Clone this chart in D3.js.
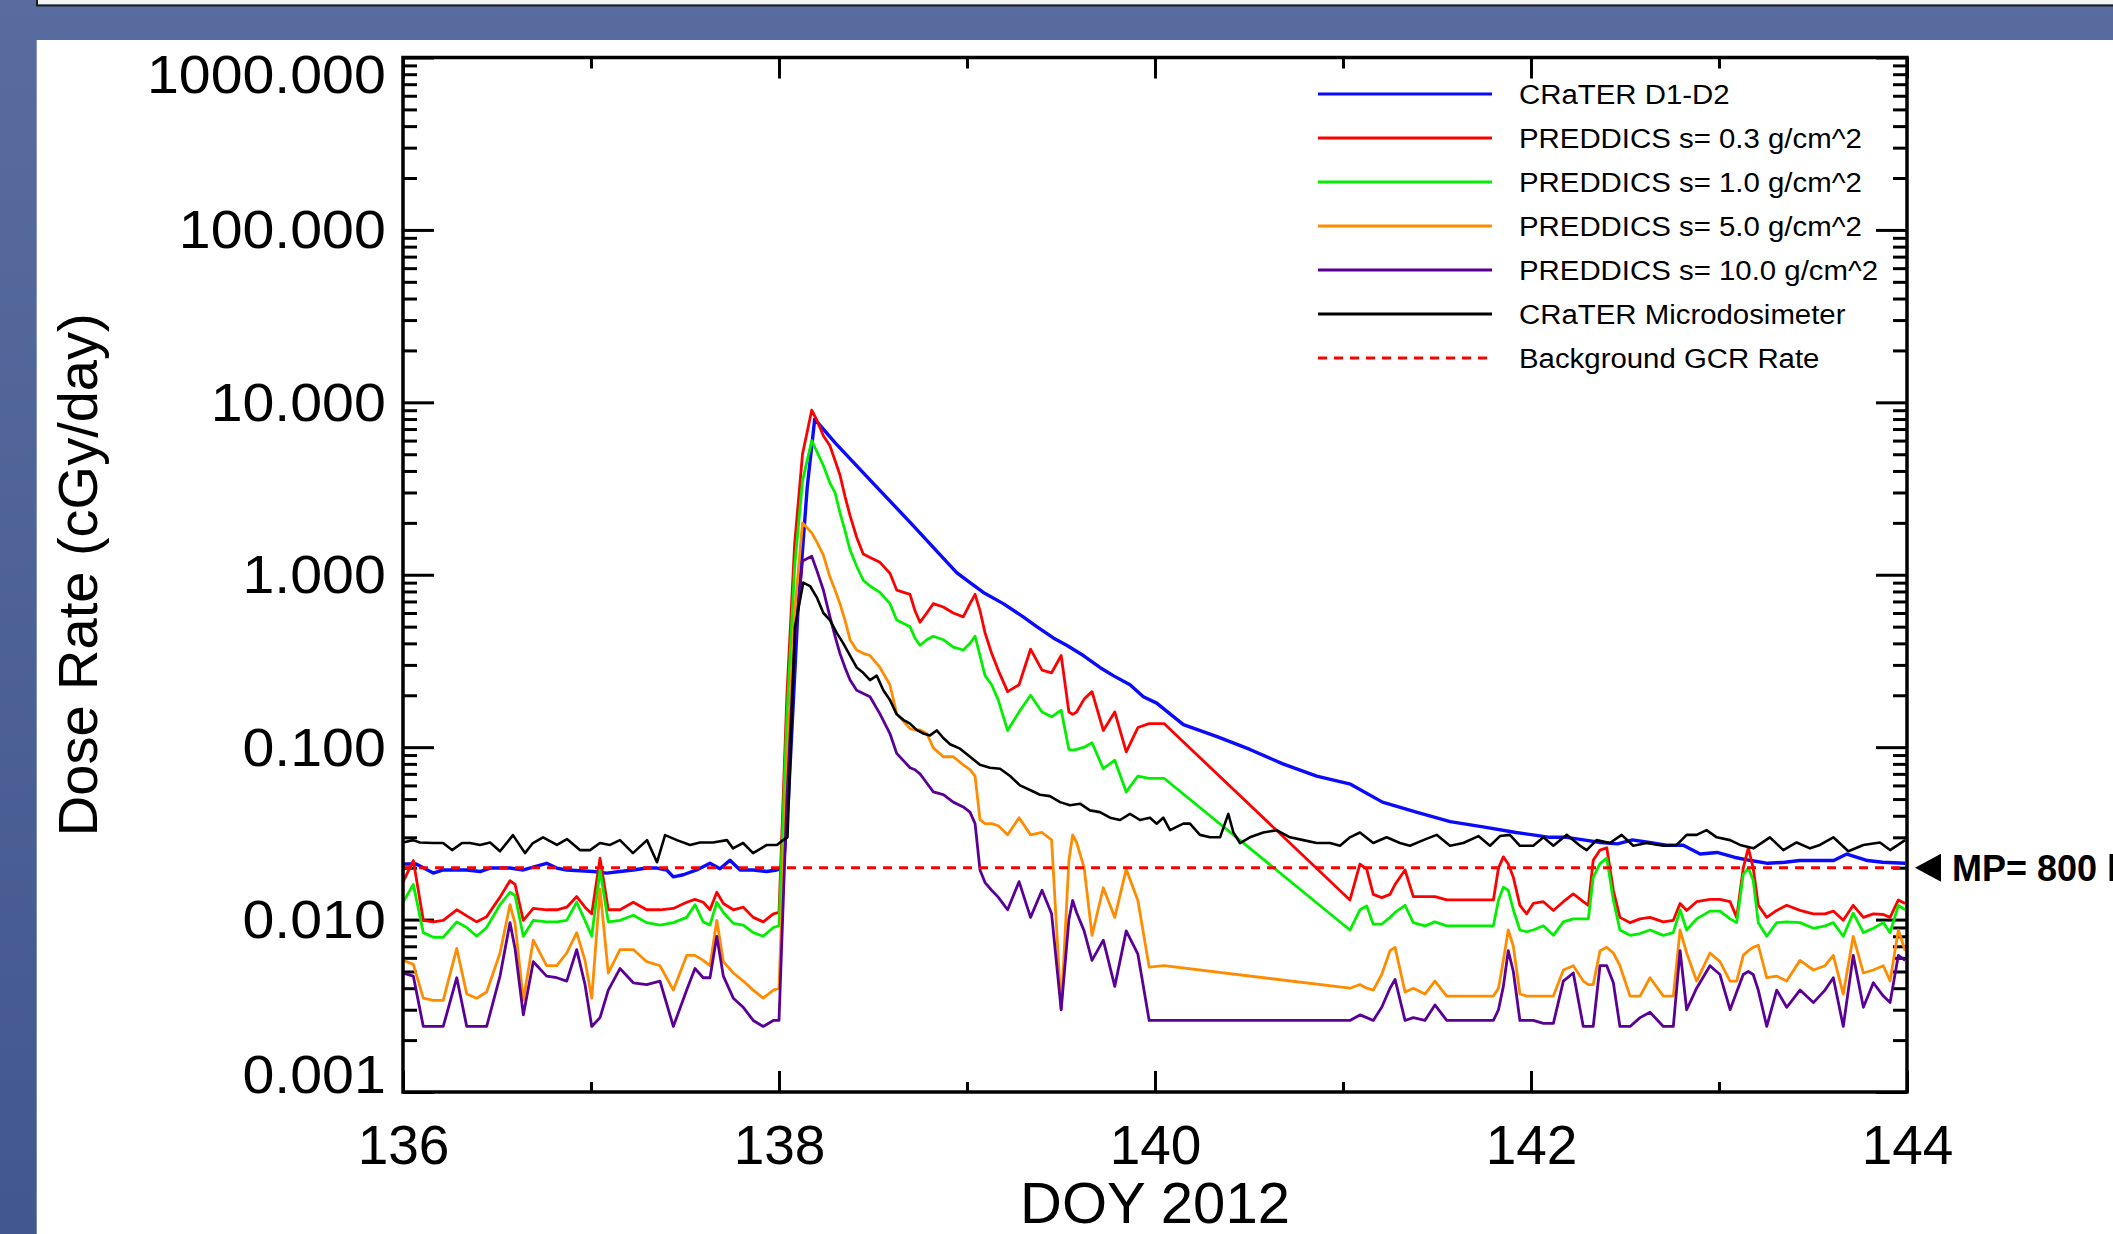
<!DOCTYPE html>
<html>
<head>
<meta charset="utf-8">
<script src="https://cdn.jsdelivr.net/npm/d3@7"></script>
<style>
  html, body { margin: 0; padding: 0; background: #4f639a; overflow: hidden; }
  svg { display: block; }
  text { font-family: "Liberation Sans", Arial, Helvetica, sans-serif; }
</style>
</head>
<body>
<svg id="chart" width="2113" height="1234"></svg>
<script>
// ---------------- data ----------------
const doyMajor = [136, 138, 140, 142, 144];
const doyMinor = [137, 139, 141, 143];
const doseDecades = [0.001, 0.01, 0.1, 1, 10, 100, 1000];

const seriesLabels = [
  "CRaTER D1-D2",
  "PREDDICS s= 0.3 g/cm^2",
  "PREDDICS s= 1.0 g/cm^2",
  "PREDDICS s= 5.0 g/cm^2",
  "PREDDICS s= 10.0 g/cm^2",
  "CRaTER Microdosimeter",
  "Background GCR Rate"
];
const xTitle = "DOY 2012";
const yTitle = "Dose Rate (cGy/day)";
const orbitNote = "MP= 800 km";
const gcrRate = 0.02;

// CRaTER D1-D2 dose rate
const d1d2Doy = [
  136.000, 136.070, 136.161, 136.214, 136.339, 136.410, 136.463, 136.569, 136.640, 136.764, 136.818, 136.871, 137.012, 137.083, 137.154, 137.225, 137.296, 137.350, 137.403, 137.438, 137.491, 137.562, 137.633, 137.686, 137.739, 137.793, 137.863, 137.934, 137.988, 138.023,
  138.050, 138.100, 138.150, 138.190, 138.300, 138.500, 138.700, 138.945,
  139.016, 139.087, 139.193, 139.299, 139.371, 139.459, 139.530, 139.619, 139.707, 139.778, 139.867, 139.938, 140.009,
  140.151, 140.330, 140.505, 140.680, 140.860, 141.040, 141.210, 141.390, 141.570, 141.745, 141.920,
  142.010, 142.100, 142.190, 142.280, 142.370, 142.460, 142.540, 142.630, 142.720, 142.810, 142.900, 142.990, 143.080, 143.170, 143.260, 143.350, 143.430, 143.520, 143.610, 143.680, 143.790, 143.870, 143.990
];
const d1d2Dose = [
  0.0210, 0.0210, 0.0186, 0.0194, 0.0194, 0.0190, 0.0199, 0.0199, 0.0194, 0.0212, 0.0199, 0.0194, 0.0190, 0.0186, 0.0190, 0.0194, 0.0199, 0.0199, 0.0194, 0.0177, 0.0182, 0.0194, 0.0212, 0.0197, 0.0221, 0.0194, 0.0194, 0.0190, 0.0194, 0.0199,
  0.05, 0.6, 3.2, 8.0, 5.8, 3.4, 2.0, 1.03,
  0.90, 0.79, 0.68, 0.57, 0.50, 0.43, 0.39, 0.34, 0.29, 0.26, 0.23, 0.196, 0.18,
  0.135, 0.115, 0.097, 0.080, 0.068, 0.061, 0.048, 0.042, 0.037, 0.0345, 0.032,
  0.031, 0.030, 0.030, 0.029, 0.028, 0.0275, 0.029, 0.028, 0.027, 0.027, 0.024, 0.0245, 0.023, 0.022, 0.0212, 0.0215, 0.022, 0.022, 0.022, 0.024, 0.022, 0.0215, 0.0212
];

// PREDDICS model output, one shared time base for the four shielding depths
const preddicsDoy = [
  136.000, 136.055, 136.108, 136.161, 136.214, 136.286, 136.339, 136.392, 136.445, 136.516, 136.569, 136.596, 136.640, 136.693, 136.764, 136.818, 136.871, 136.924, 136.968, 137.004, 137.048, 137.092, 137.154, 137.225, 137.296, 137.367, 137.438, 137.509, 137.553, 137.597, 137.633, 137.669, 137.704, 137.757, 137.810, 137.863, 137.916, 137.970, 138.000,
  138.042, 138.083, 138.125, 138.174, 138.201, 138.236, 138.271, 138.298, 138.324, 138.351, 138.378, 138.413, 138.448, 138.484, 138.537, 138.590, 138.626, 138.697, 138.723, 138.750, 138.786, 138.821, 138.874, 138.927, 138.980, 139.016, 139.043, 139.069, 139.096, 139.131, 139.166, 139.216, 139.277, 139.338, 139.399, 139.450, 139.501, 139.542, 139.562, 139.583, 139.623, 139.665, 139.725, 139.786, 139.847, 139.909, 139.969, 140.048,
  141.037, 141.090, 141.126, 141.161, 141.206, 141.250, 141.277, 141.330, 141.374, 141.436, 141.489, 141.552, 141.800, 141.827, 141.853, 141.879, 141.906, 141.941, 141.977,
  142.012, 142.066, 142.119, 142.172, 142.225, 142.278, 142.305, 142.331, 142.367, 142.403, 142.438, 142.473, 142.527, 142.580, 142.633, 142.704, 142.757, 142.793, 142.828, 142.881, 142.952, 143.005, 143.059, 143.094, 143.129, 143.156, 143.182, 143.209, 143.254, 143.307, 143.360, 143.431, 143.502, 143.564, 143.608, 143.661, 143.714, 143.768, 143.821, 143.874, 143.910, 143.954, 143.990
];
const preddics03 = [
  0.0165, 0.022, 0.0099, 0.0097, 0.0099, 0.0114, 0.0105, 0.0097, 0.0104, 0.0135, 0.0168, 0.016, 0.0099, 0.0116, 0.0114, 0.0114, 0.0118, 0.0136, 0.0118, 0.0108, 0.0227, 0.0114, 0.0114, 0.0126, 0.0114, 0.0114, 0.0116, 0.0126, 0.0131, 0.0126, 0.0114, 0.0144, 0.0124, 0.0114, 0.0118, 0.0103, 0.0097, 0.0108, 0.0110,
  0.20, 1.5, 5.0, 9.0, 7.9, 6.4, 5.6, 4.6, 3.8, 2.85, 2.2, 1.65, 1.32, 1.26, 1.18, 1.02, 0.815, 0.77, 0.62, 0.53, 0.60, 0.68, 0.65, 0.60, 0.57, 0.68, 0.77, 0.62, 0.46, 0.35, 0.28, 0.21, 0.23, 0.37, 0.28, 0.27, 0.34, 0.16, 0.155, 0.16, 0.19, 0.21, 0.125, 0.16, 0.094, 0.13, 0.137, 0.137,
  0.0130, 0.0210, 0.0196, 0.0140, 0.0134, 0.0140, 0.0160, 0.0194, 0.0136, 0.0136, 0.0136, 0.0130, 0.0130, 0.0199, 0.0231, 0.0210, 0.0176, 0.0121, 0.0108,
  0.0124, 0.0127, 0.0113, 0.0127, 0.0141, 0.0127, 0.0121, 0.0221, 0.0253, 0.0261, 0.0148, 0.0103, 0.0096, 0.0101, 0.0103, 0.0097, 0.0099, 0.0124, 0.0113, 0.0127, 0.0131, 0.0131, 0.0127, 0.0103, 0.0199, 0.0261, 0.0199, 0.0121, 0.0103, 0.0113, 0.0121, 0.0113, 0.0108, 0.0108, 0.0112, 0.0099, 0.0121, 0.0103, 0.0108, 0.0107, 0.0103, 0.0130, 0.0124
];
const preddics10 = [
  0.0126, 0.016, 0.0084, 0.0079, 0.0079, 0.0097, 0.0090, 0.0080, 0.0090, 0.0122, 0.0144, 0.0138, 0.0080, 0.0099, 0.0097, 0.0097, 0.0099, 0.0126, 0.0099, 0.0080, 0.0194, 0.0097, 0.0099, 0.0106, 0.0096, 0.0093, 0.0096, 0.0103, 0.0122, 0.0097, 0.0093, 0.0126, 0.0110, 0.0095, 0.0093, 0.0084, 0.0080, 0.0090, 0.0092,
  0.15, 1.1, 3.5, 6.0, 5.2, 4.3, 3.4, 3.0, 2.3, 1.8, 1.39, 1.12, 0.93, 0.86, 0.79, 0.68, 0.546, 0.50, 0.43, 0.39, 0.42, 0.44, 0.42, 0.38, 0.366, 0.40, 0.44, 0.34, 0.26, 0.23, 0.188, 0.125, 0.16, 0.20, 0.16, 0.15, 0.164, 0.097, 0.096, 0.097, 0.10, 0.106, 0.075, 0.084, 0.055, 0.068, 0.066, 0.066,
  0.0087, 0.0114, 0.0120, 0.0094, 0.0094, 0.0103, 0.0110, 0.0121, 0.0096, 0.0092, 0.0097, 0.0092, 0.0092, 0.0130, 0.0154, 0.0148, 0.0114, 0.0087, 0.0085,
  0.0087, 0.0092, 0.0081, 0.0097, 0.0101, 0.0101, 0.0101, 0.0176, 0.0211, 0.0227, 0.0130, 0.0087, 0.0081, 0.0083, 0.0087, 0.0081, 0.0084, 0.0114, 0.0087, 0.0101, 0.0112, 0.0112, 0.0101, 0.0096, 0.0183, 0.0199, 0.0169, 0.0096, 0.0080, 0.0096, 0.0097, 0.0096, 0.0089, 0.0092, 0.0096, 0.0080, 0.0109, 0.0084, 0.0089, 0.0096, 0.0084, 0.0121, 0.0114
];
const preddics50 = [
  0.0058, 0.0055, 0.0035, 0.0034, 0.0034, 0.0068, 0.0037, 0.0035, 0.0038, 0.0064, 0.0122, 0.0095, 0.0034, 0.0076, 0.0054, 0.0054, 0.0064, 0.0084, 0.0058, 0.0035, 0.0150, 0.0049, 0.0067, 0.0067, 0.0057, 0.0054, 0.0039, 0.0062, 0.0062, 0.0058, 0.0054, 0.0099, 0.0057, 0.0049, 0.0044, 0.0039, 0.0035, 0.0039, 0.0040,
  0.08, 0.6, 2.0, 1.75, 1.55, 1.3, 0.97, 0.815, 0.68, 0.546, 0.42, 0.366, 0.35, 0.34, 0.29, 0.23, 0.156, 0.128, 0.126, 0.126, 0.12, 0.099, 0.088, 0.088, 0.079, 0.074, 0.068, 0.038, 0.036, 0.036, 0.035, 0.031, 0.039, 0.031, 0.032, 0.029, 0.0030, 0.022, 0.031, 0.028, 0.020, 0.0081, 0.0153, 0.0103, 0.0196, 0.0129, 0.0053, 0.0054,
  0.0040, 0.0042, 0.0040, 0.0039, 0.0048, 0.0066, 0.0069, 0.0038, 0.0040, 0.0037, 0.0044, 0.0036, 0.0036, 0.0040, 0.0058, 0.0087, 0.0070, 0.0037, 0.0036,
  0.0036, 0.0036, 0.0036, 0.0051, 0.0054, 0.0044, 0.0042, 0.0042, 0.0066, 0.0069, 0.0064, 0.0054, 0.0036, 0.0036, 0.0046, 0.0036, 0.0036, 0.0087, 0.0064, 0.0044, 0.0064, 0.0057, 0.0044, 0.0044, 0.0062, 0.0066, 0.0069, 0.0071, 0.0046, 0.0047, 0.0044, 0.0058, 0.0051, 0.0054, 0.0062, 0.0037, 0.0080, 0.0049, 0.0051, 0.0054, 0.0044, 0.0087, 0.0066
];
const preddics100 = [
  0.0049, 0.0047, 0.0024, 0.0024, 0.0024, 0.0046, 0.0024, 0.0024, 0.0024, 0.0047, 0.0096, 0.0068, 0.0028, 0.0057, 0.0047, 0.0046, 0.0044, 0.0067, 0.0042, 0.0024, 0.0027, 0.0039, 0.0052, 0.0043, 0.0042, 0.0044, 0.0024, 0.0039, 0.0052, 0.0046, 0.0046, 0.0080, 0.0047, 0.0035, 0.0031, 0.0026, 0.0024, 0.0026, 0.0026,
  0.05, 0.4, 1.2, 1.28, 1.06, 0.815, 0.57, 0.44, 0.35, 0.29, 0.245, 0.214, 0.205, 0.196, 0.156, 0.12, 0.092, 0.076, 0.074, 0.070, 0.062, 0.055, 0.053, 0.048, 0.045, 0.042, 0.036, 0.0194, 0.0164, 0.0148, 0.0135, 0.0114, 0.0166, 0.0103, 0.0148, 0.0108, 0.0030, 0.010, 0.0129, 0.011, 0.0086, 0.0058, 0.0076, 0.0041, 0.0086, 0.0063, 0.0026, 0.0026,
  0.0026, 0.0028, 0.0027, 0.0026, 0.0031, 0.0040, 0.0045, 0.0026, 0.0027, 0.0026, 0.0032, 0.0026, 0.0026, 0.0030, 0.0041, 0.0066, 0.0050, 0.0026, 0.0026,
  0.0026, 0.0025, 0.0025, 0.0044, 0.0049, 0.0024, 0.0024, 0.0024, 0.0054, 0.0054, 0.0043, 0.0024, 0.0024, 0.0027, 0.0029, 0.0024, 0.0024, 0.0066, 0.0030, 0.0040, 0.0054, 0.0048, 0.0030, 0.0038, 0.0048, 0.0050, 0.0048, 0.0039, 0.0024, 0.0039, 0.0031, 0.0039, 0.0033, 0.0039, 0.0046, 0.0024, 0.0062, 0.0031, 0.0043, 0.0036, 0.0033, 0.0062, 0.0058
];

// CRaTER microdosimeter
const microDoy = [
  136.000, 136.053, 136.090, 136.160, 136.213, 136.261, 136.314, 136.356, 136.410, 136.463, 136.516, 136.585, 136.649, 136.691, 136.745, 136.819, 136.872, 136.941, 136.995, 137.048, 137.101, 137.154, 137.223, 137.298, 137.351, 137.394, 137.457, 137.527, 137.580, 137.649, 137.723, 137.755, 137.809, 137.862, 137.936, 137.989, 138.021, 138.045,
  138.085, 138.129, 138.165, 138.201, 138.236, 138.271, 138.307, 138.342, 138.378, 138.413, 138.448, 138.484, 138.520, 138.555, 138.590, 138.626, 138.661, 138.697, 138.732, 138.768, 138.803, 138.839, 138.874, 138.910, 138.963, 139.016, 139.069, 139.122, 139.176, 139.229, 139.282, 139.335, 139.388, 139.441, 139.495, 139.548, 139.601, 139.654, 139.707, 139.761, 139.814, 139.867, 139.920,
  139.973, 140.009, 140.044, 140.080, 140.115, 140.151, 140.186, 140.239, 140.293, 140.346, 140.390, 140.417, 140.452, 140.505, 140.576, 140.647, 140.718, 140.789, 140.860, 140.931, 140.984, 141.037, 141.090, 141.161, 141.232, 141.303, 141.356, 141.427, 141.498, 141.569, 141.640, 141.720, 141.782, 141.835, 141.888, 141.941,
  142.012, 142.066, 142.119, 142.190, 142.261, 142.296, 142.349, 142.420, 142.482, 142.544, 142.615, 142.704, 142.775, 142.828, 142.881, 142.934, 142.988, 143.059, 143.112, 143.183, 143.271, 143.342, 143.413, 143.484, 143.537, 143.608, 143.688, 143.768, 143.856, 143.910, 143.990
];
const microDose = [
  0.0280, 0.0289, 0.0280, 0.0278, 0.0278, 0.0253, 0.0278, 0.0278, 0.0271, 0.0280, 0.0249, 0.0309, 0.0243, 0.0278, 0.0300, 0.0271, 0.0293, 0.0253, 0.0253, 0.0278, 0.0271, 0.0289, 0.0243, 0.0289, 0.0215, 0.0309, 0.0289, 0.0271, 0.0280, 0.0280, 0.0289, 0.0259, 0.0278, 0.0243, 0.0271, 0.0271, 0.0289, 0.0300,
  0.50, 0.90, 0.86, 0.74, 0.60, 0.546, 0.46, 0.40, 0.34, 0.29, 0.27, 0.245, 0.26, 0.214, 0.188, 0.155, 0.144, 0.137, 0.126, 0.120, 0.117, 0.125, 0.113, 0.104, 0.098, 0.088, 0.079, 0.076, 0.075, 0.068, 0.060, 0.0564, 0.053, 0.052, 0.048, 0.046, 0.047, 0.043, 0.042, 0.039, 0.0378, 0.041, 0.0378,
  0.039, 0.036, 0.039, 0.033, 0.0345, 0.036, 0.036, 0.031, 0.030, 0.030, 0.041, 0.032, 0.0278, 0.030, 0.032, 0.033, 0.030, 0.0289, 0.0278, 0.0278, 0.0268, 0.030, 0.032, 0.0278, 0.030, 0.0278, 0.0268, 0.0289, 0.031, 0.0268, 0.0278, 0.0305, 0.0268, 0.0305, 0.031, 0.0268,
  0.0268, 0.030, 0.0268, 0.031, 0.0268, 0.0253, 0.0289, 0.0278, 0.031, 0.0268, 0.0278, 0.0268, 0.0271, 0.031, 0.031, 0.033, 0.030, 0.0289, 0.0271, 0.0259, 0.030, 0.0253, 0.028, 0.0259, 0.0271, 0.030, 0.0249, 0.0271, 0.028, 0.0253, 0.0289
];

// ---------------- layout ----------------
const W = 2113, H = 1234;
const plot = { left: 403, right: 1907, top: 57.5, bottom: 1092 };
const FONT = '"Liberation Sans", Arial, Helvetica, sans-serif';

const svg = d3.select("#chart");
const defs = svg.append("defs");

// slide frame
const bg = defs.append("linearGradient").attr("id", "slideBg")
  .attr("x1", 0).attr("y1", 0).attr("x2", 0).attr("y2", 1);
bg.append("stop").attr("offset", "0%").attr("stop-color", "#586c9f");
bg.append("stop").attr("offset", "100%").attr("stop-color", "#42578e");
svg.append("rect").attr("width", W).attr("height", H).attr("fill", "url(#slideBg)");
svg.append("rect").attr("x", 37).attr("y", 0).attr("width", W - 37).attr("height", 4.5).attr("fill", "#f3f3f3");
svg.append("path").attr("d", `M37,0V5.5H${W}`).attr("fill", "none")
  .attr("stroke", "#1e1e1e").attr("stroke-width", 2);
svg.append("rect").attr("x", 36.7).attr("y", 40).attr("width", W - 36.7).attr("height", H - 40).attr("fill", "#ffffff");

defs.append("clipPath").attr("id", "plotClip").append("rect")
  .attr("x", plot.left).attr("y", plot.top)
  .attr("width", plot.right - plot.left).attr("height", plot.bottom - plot.top);

// ---------------- scales ----------------
const x = d3.scaleLinear().domain([136, 144]).range([plot.left, plot.right]);
const y = d3.scaleLog().domain([0.001, 1000]).range([plot.bottom, plot.top]);
const minorDose = y.ticks().filter(v => !doseDecades.some(d => Math.abs(d - v) / d < 1e-6));

function styleAxis(g, width) {
  g.select(".domain").remove();
  g.selectAll(".tick line").attr("stroke", "#000").attr("stroke-width", width);
}

// bottom axis: labelled majors + short minors
const gxb = svg.append("g").attr("transform", `translate(0,${plot.bottom})`)
  .call(d3.axisBottom(x).tickValues(doyMajor).tickSize(-21).tickSizeOuter(0)
    .tickPadding(33).tickFormat(d3.format("d")));
styleAxis(gxb, 3);
gxb.selectAll("text").attr("font-family", FONT).attr("font-size", 55).attr("fill", "#000");
const gxbm = svg.append("g").attr("transform", `translate(0,${plot.bottom})`)
  .call(d3.axisBottom(x).tickValues(doyMinor).tickSize(-10).tickSizeOuter(0).tickFormat(""));
styleAxis(gxbm, 3);

// top axis ticks
const gxt = svg.append("g").attr("transform", `translate(0,${plot.top})`)
  .call(d3.axisTop(x).tickValues(doyMajor).tickSize(-21).tickSizeOuter(0).tickFormat(""));
styleAxis(gxt, 3);
const gxtm = svg.append("g").attr("transform", `translate(0,${plot.top})`)
  .call(d3.axisTop(x).tickValues(doyMinor).tickSize(-11).tickSizeOuter(0).tickFormat(""));
styleAxis(gxtm, 3);

// left axis: labelled decades + minors
const gyl = svg.append("g").attr("transform", `translate(${plot.left},0)`)
  .call(d3.axisLeft(y).tickValues(doseDecades).tickSize(-31).tickSizeOuter(0)
    .tickPadding(16).tickFormat(d3.format(".3f")));
styleAxis(gyl, 3);
gyl.selectAll("text")
  .attr("font-family", FONT).attr("font-size", 53).attr("fill", "#000")
  .attr("transform", "scale(1.08,1)")
  .attr("dy", d => d === 1000 ? "0.66em" : d === 0.001 ? "0em" : "0.34em");
const gylm = svg.append("g").attr("transform", `translate(${plot.left},0)`)
  .call(d3.axisLeft(y).tickValues(minorDose).tickSize(-14).tickSizeOuter(0).tickFormat(""));
styleAxis(gylm, 3);

// right axis ticks
const gyr = svg.append("g").attr("transform", `translate(${plot.right},0)`)
  .call(d3.axisRight(y).tickValues(doseDecades).tickSize(-31).tickSizeOuter(0).tickFormat(""));
styleAxis(gyr, 3);
const gyrm = svg.append("g").attr("transform", `translate(${plot.right},0)`)
  .call(d3.axisRight(y).tickValues(minorDose).tickSize(-14).tickSizeOuter(0).tickFormat(""));
styleAxis(gyrm, 3);

// ---------------- series ----------------
const line = d3.line().x(d => x(d[0])).y(d => y(d[1]));
const series = [
  { doy: d1d2Doy,     dose: d1d2Dose,    color: "#0a0aff", width: 3.4 },
  { doy: preddicsDoy, dose: preddics03,  color: "#ff0000", width: 2.8 },
  { doy: preddicsDoy, dose: preddics10,  color: "#00f000", width: 2.8 },
  { doy: preddicsDoy, dose: preddics50,  color: "#ff8c00", width: 2.8 },
  { doy: preddicsDoy, dose: preddics100, color: "#5a0096", width: 2.8 },
  { doy: microDoy,    dose: microDose,   color: "#000000", width: 2.6 }
];
const gLines = svg.append("g").attr("clip-path", "url(#plotClip)");
series.forEach(s => {
  gLines.append("path")
    .datum(d3.zip(s.doy, s.dose))
    .attr("d", line)
    .attr("fill", "none")
    .attr("stroke", s.color)
    .attr("stroke-width", s.width)
    .attr("stroke-linejoin", "round");
});
// background galactic cosmic ray level
gLines.append("line")
  .attr("x1", x(136)).attr("x2", x(144))
  .attr("y1", y(gcrRate)).attr("y2", y(gcrRate))
  .attr("stroke", "#ff0000").attr("stroke-width", 3).attr("stroke-dasharray", "9,7");

// plot frame
svg.append("rect")
  .attr("x", plot.left).attr("y", plot.top)
  .attr("width", plot.right - plot.left).attr("height", plot.bottom - plot.top)
  .attr("fill", "none").attr("stroke", "#000").attr("stroke-width", 3.5);

// ---------------- legend ----------------
const legendColors = ["#0a0aff", "#ff0000", "#00f000", "#ff8c00", "#5a0096", "#000000", "#ff0000"];
const legend = svg.append("g");
seriesLabels.forEach((label, i) => {
  const ly = 94 + i * 44;
  legend.append("line")
    .attr("x1", 1318).attr("x2", 1492).attr("y1", ly).attr("y2", ly)
    .attr("stroke", legendColors[i]).attr("stroke-width", 3)
    .attr("stroke-dasharray", i === 6 ? "9,7" : null);
  legend.append("text")
    .attr("transform", `translate(1519,${ly}) scale(1.05,1)`)
    .attr("dy", "0.36em")
    .attr("font-family", FONT).attr("font-size", 28).attr("fill", "#000")
    .text(label);
});

// ---------------- titles ----------------
svg.append("text")
  .attr("x", x(140)).attr("y", 1223)
  .attr("text-anchor", "middle")
  .attr("font-family", FONT).attr("font-size", 58).attr("fill", "#000")
  .text(xTitle);

svg.append("text")
  .attr("transform", `translate(77,${(plot.top + plot.bottom) / 2}) rotate(-90)`)
  .attr("text-anchor", "middle").attr("dy", "0.36em")
  .attr("font-family", FONT).attr("font-size", 56).attr("fill", "#000")
  .text(yTitle);

// orbit altitude marker at the GCR level
const yg = y(gcrRate);
svg.append("path")
  .attr("d", `M${plot.right + 8},${yg}L${plot.right + 34},${yg - 14}L${plot.right + 34},${yg + 14}Z`)
  .attr("fill", "#000");
svg.append("text")
  .attr("x", plot.right + 45).attr("y", yg + 13)
  .attr("font-family", FONT).attr("font-size", 36).attr("font-weight", "bold").attr("fill", "#000")
  .text(orbitNote);
</script>
</body>
</html>
